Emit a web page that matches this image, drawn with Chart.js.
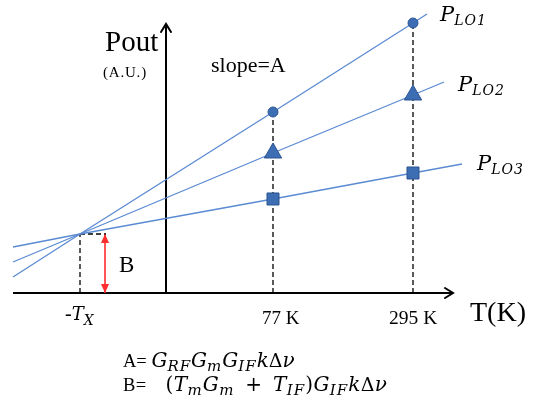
<!DOCTYPE html>
<html>
<head>
<meta charset="utf-8">
<script src="https://cdn.jsdelivr.net/npm/chart.js@4"></script>
<style>
  html,body{margin:0;padding:0;background:#fff;}
  #wrap{position:relative;width:539px;height:403px;overflow:hidden;}
  #c{position:absolute;left:0;top:0;}
  .t{position:absolute;white-space:nowrap;line-height:1;font-family:"Liberation Serif","Times New Roman",serif;color:#000;}
  .m{font-family:"DejaVu Serif",serif;font-style:italic;}
  .up{font-family:"DejaVu Serif",serif;font-style:normal;}
  .sub{font-family:"DejaVu Serif",serif;font-style:italic;position:relative;}
</style>
</head>
<body>
<div id="wrap"><canvas id="c" width="539" height="403"></canvas></div>
<script>
// ---- Data (schematic axis units; the figure is not to scale) ----
const seriesNames = ['P_LO1', 'P_LO2', 'P_LO3'];
const tempLabels  = ['-T_X', '77 K', '295 K'];
const tempPos     = [-86, 107, 247];          // positions of -Tx, 77 K, 295 K on the T axis
const lineStartX  = -153;
const lineEndX    = [261, 278, 296];          // where each line ends on the right
const interceptB  = 59;                       // Pout at T = -Tx (common crossing)
// Pout values at [start, -Tx, 77 K, 295 K, end]
const pLO1 = [16, 59, 181, 270, 279];
const pLO2 = [31, 59, 140, 198, 211];
const pLO3 = [46, 59, 94, 120, 129];
const markerStyles = ['circle', 'triangle', 'rect'];
const markerSizes  = [5, 10, 8.5];

const seriesVals = [pLO1, pLO2, pLO3];
const lineColor = '#5a8ad2';
const mkFill = '#3d6db2';
const mkBorder = '#2c5591';

const datasets = [];
seriesVals.forEach((vals, i) => {
  const xs = [lineStartX, tempPos[0], tempPos[1], tempPos[2], lineEndX[i]];
  datasets.push({
    label: seriesNames[i],
    data: xs.map((x, k) => ({x, y: vals[k]})),
    borderColor: lineColor,
    borderWidth: 1.3,
    backgroundColor: mkFill,
    pointBorderColor: mkBorder,
    pointBorderWidth: 1,
    pointStyle: markerStyles[i],
    pointRadius: [0, 0, markerSizes[i], markerSizes[i], 0],
    pointHoverRadius: 0,
    tension: 0,
    clip: false
  });
});
// dashed guides
const dash = {borderColor:'#000', borderWidth:1.3, borderDash:[5,3], pointRadius:0, clip:false};
datasets.push(Object.assign({label:'g77', data:[{x:tempPos[1],y:0},{x:tempPos[1],y:pLO1[2]}]}, dash));
datasets.push(Object.assign({label:'g295', data:[{x:tempPos[2],y:0},{x:tempPos[2],y:pLO1[3]}]}, dash));
datasets.push(Object.assign({label:'gTx', data:[{x:tempPos[0],y:0},{x:tempPos[0],y:interceptB}]}, dash));
datasets.push(Object.assign({label:'gB', data:[{x:tempPos[0],y:interceptB},{x:-60,y:interceptB}]}, dash));
// red B arrow
datasets.push({label:'arrowB', data:[{x:-61,y:0},{x:-61,y:interceptB}], borderColor:'#ff2d2d', borderWidth:1.6, pointRadius:0, clip:false});
// axes
datasets.push({label:'xAxis', data:[{x:lineStartX,y:0},{x:287,y:0}], borderColor:'#000', borderWidth:2, pointRadius:0, clip:false});
datasets.push({label:'yAxis', data:[{x:0,y:0},{x:0,y:269}], borderColor:'#000', borderWidth:2, pointRadius:0, clip:false});

const arrowPlugin = {
  id: 'arrows',
  afterDatasetsDraw(chart) {
    const ctx = chart.ctx;
    const find = l => chart.data.datasets.findIndex(d => d.label === l);
    const pts = l => chart.getDatasetMeta(find(l)).data;
    ctx.save();
    ctx.strokeStyle = '#000'; ctx.lineWidth = 2; ctx.lineCap = 'round'; ctx.lineJoin='miter';
    let p = pts('xAxis'); let t = p[p.length-1];
    ctx.beginPath(); ctx.moveTo(t.x-8, t.y-5); ctx.lineTo(t.x, t.y); ctx.lineTo(t.x-8, t.y+5); ctx.stroke();
    p = pts('yAxis'); t = p[p.length-1];
    ctx.beginPath(); ctx.moveTo(t.x-5, t.y+8); ctx.lineTo(t.x, t.y); ctx.lineTo(t.x+5, t.y+8); ctx.stroke();
    p = pts('arrowB');
    ctx.fillStyle = '#ff2d2d';
    const b = p[0], a = p[1];
    ctx.beginPath(); ctx.moveTo(a.x, a.y); ctx.lineTo(a.x-4, a.y+9); ctx.lineTo(a.x+4, a.y+9); ctx.closePath(); ctx.fill();
    ctx.beginPath(); ctx.moveTo(b.x, b.y); ctx.lineTo(b.x-4, b.y-9); ctx.lineTo(b.x+4, b.y-9); ctx.closePath(); ctx.fill();
    ctx.restore();
  }
};

new Chart(document.getElementById('c'), {
  type: 'line',
  data: { datasets },
  options: {
    responsive: false,
    animation: false,
    events: [],
    layout: { padding: 0 },
    plugins: { legend: {display:false}, tooltip: {enabled:false}, title:{display:false} },
    scales: {
      x: { type:'linear', min:-166, max:373, display:false },
      y: { type:'linear', min:-110, max:293, display:false }
    }
  },
  plugins: [arrowPlugin]
});

// ---- text (real HTML text) ----
const wrap = document.getElementById('wrap');
function label(html, left, baseline, size, extra) {
  const d = document.createElement('div');
  d.className = 't';
  d.style.left = left + 'px';
  d.style.top = (baseline - 0.84 * size) + 'px';
  d.style.fontSize = size + 'px';
  if (extra) d.setAttribute('style', d.getAttribute('style') + ';' + extra);
  d.innerHTML = html;
  wrap.appendChild(d);
}
function sub(txt, size, drop, ls) { return '<span class="sub" style="font-size:' + size + 'px;top:' + drop + 'px;letter-spacing:' + (ls||0) + 'px">' + txt + '</span>'; }
function mi(txt, size) { return '<span class="m" style="font-size:' + size + 'px">' + txt + '</span>'; }
function up(txt, size) { return '<span class="up" style="font-size:' + size + 'px">' + txt + '</span>'; }
function pName(name) { const s = name.split('_'); return mi(s[0], 21) + sub(s[1], 14, 4, 1); }

label('Pout', 105, 51, 29);
label('(A.U.)', 103, 78, 15, 'letter-spacing:0.8px');
label('slope=A', 211, 72, 22);
label(pName(seriesNames[0]), 440, 22, 21);
label(pName(seriesNames[1]), 458, 92, 21);
label(pName(seriesNames[2]), 477, 171, 21);
label('B', 119, 272, 23);
const tx = tempLabels[0].split('_');
label(tx[0].charAt(0) + mi(tx[0].slice(1), 18) + sub(tx[1], 14, 5), 65, 320, 20);
label(tempLabels[1], 262, 324, 19);
label(tempLabels[2], 389, 324, 19.5);
label('T(K)', 470, 322, 28);
const MS = 20, SS = 15;
const G = mi('G', MS), T = mi('T', MS), kdn = mi('k', MS) + up('Δ', 19) + mi('ν', MS);
const s = t => sub(t, SS, 4, 1);
label('A= ' + G + s('RF') + G + s('m') + G + s('IF') + kdn, 123, 366, 18.5);
label('B= <span style="display:inline-block;width:14px"></span>' + up('(', MS) + T + s('m') + G + s('m') +
      '<span style="display:inline-block;width:4px"></span>' + up(' + ', MS) + '<span style="display:inline-block;width:4px"></span>' +
      T + s('IF') + up(')', MS) + G + s('IF') + kdn, 123, 390, 18.5, 'letter-spacing:0.4px');
</script>
</body>
</html>
